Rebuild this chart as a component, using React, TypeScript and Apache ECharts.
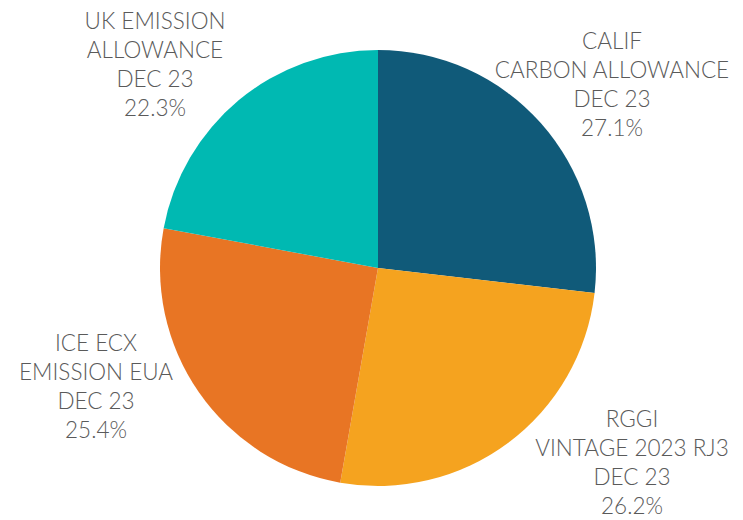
import React, { useEffect, useRef } from "react";
import * as echarts from "echarts";

const names = [
  "CALIF\nCARBON ALLOWANCE\nDEC 23",
  "RGGI\nVINTAGE 2023 RJ3\nDEC 23",
  "ICE ECX\nEMISSION EUA\nDEC 23",
  "UK EMISSION\nALLOWANCE\nDEC 23",
];
const values = [27.1, 26.2, 25.4, 22.3];
const colors = ["#105a79", "#f5a31f", "#e87524", "#00b9b2"];
const labelCenters = [
  [612, 84],
  [632, 462],
  [96, 386],
  [155, 64],
];

export default function App() {
  const ref = useRef<HTMLDivElement>(null);
  useEffect(() => {
    const chart = echarts.init(ref.current!, null, { renderer: "svg" });
    chart.setOption({
      animation: false,
      backgroundColor: "#ffffff",
      series: [
        {
          type: "pie",
          center: [378, 268],
          radius: 218,
          startAngle: 90,
          clockwise: true,
          data: names.map((n, i) => ({
            name: n,
            value: values[i],
            itemStyle: { color: colors[i] },
          })),
          label: {
            show: true,
            position: "outside",
            formatter: "{b}\n{c}%",
            color: "#5a5a5a",
            fontFamily: "Lato",
            fontWeight: 300,
            fontSize: 22.5,
            lineHeight: 29,
            align: "center",
            overflow: "none",
            edgeDistance: 0,
          },
          labelLine: { show: false },
          labelLayout: (p: any) => ({
            x: labelCenters[p.dataIndex][0],
            y: labelCenters[p.dataIndex][1],
            align: "center",
            verticalAlign: "middle",
          }),
          emphasis: { disabled: true },
        },
      ],
    });
    return () => chart.dispose();
  }, []);
  return (
    <div
      ref={ref}
      style={{ position: "fixed", left: 0, top: 0, width: 743, height: 520 }}
    />
  );
}
